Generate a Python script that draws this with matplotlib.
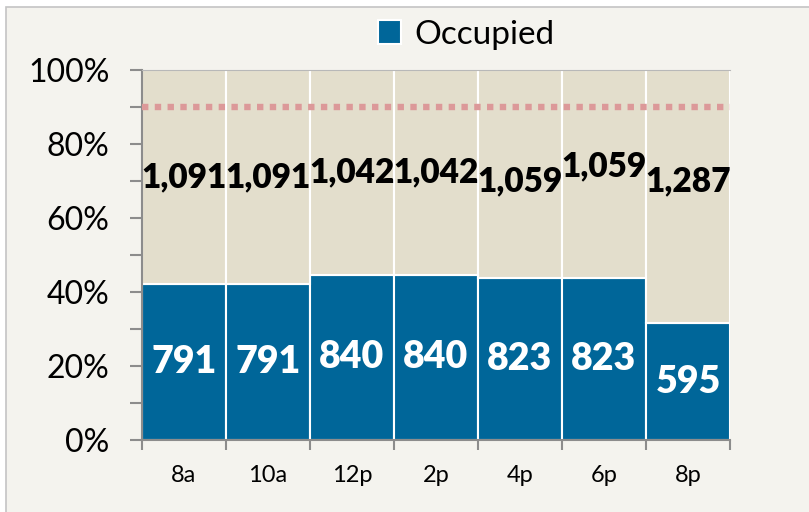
import matplotlib
matplotlib.use("Agg")
import matplotlib.pyplot as plt
from matplotlib.patches import Rectangle
from matplotlib.ticker import MultipleLocator, FixedLocator, FuncFormatter

plt.rcParams.update({"font.family": ["Lato", "DejaVu Sans"]})

# ---- data ----
slots = ["8a", "10a", "12p", "2p", "4p", "6p", "8p"]
occupied = [791, 791, 840, 840, 823, 823, 595]
empty = [1091, 1091, 1042, 1042, 1059, 1059, 1287]
target = 0.90
# small vertical nudges of the upper labels (share of axis), as in the original
empty_nudge = [0.0, 0.0, 0.0, 0.0, -0.02, 0.02, 0.04]

BLUE, BEIGE, BG, GRID = "#006699", "#e3decc", "#f4f3ee", "#8c8c8c"

fig = plt.figure(figsize=(8.09, 5.12), dpi=100)
fig.patch.set_facecolor("white")
fig.add_artist(Rectangle((6 / 809, -0.01), 1.0, 1 - 7 / 512 + 0.01, transform=fig.transFigure,
                         fc=BG, ec="#c4c4c4", lw=1.2, zorder=0))
ax = fig.add_axes([142 / 809, 1 - 440 / 512, 588 / 809, 370 / 512])
ax.set_facecolor(BG)

x = range(len(slots))
tot = [o + e for o, e in zip(occupied, empty)]
occ_f = [o / t for o, t in zip(occupied, tot)]
emp_f = [e / t for e, t in zip(empty, tot)]

b1 = ax.bar(x, occ_f, width=1.0, color=BLUE, edgecolor="white", lw=1.5, label="Occupied", zorder=2)
ax.bar(x, emp_f, bottom=occ_f, width=1.0, color=BEIGE, edgecolor="white", lw=1.5, zorder=2)
ax.axhline(target, color="#dc9999", lw=4.6, ls=(0, (1, 1)), dash_capstyle="butt", zorder=3)

for i in x:
    ax.text(i, occ_f[i] / 2, f"{occupied[i]:,}", ha="center", va="center", color="white",
            fontsize=27, fontweight="heavy", zorder=4)
    ax.text(i, occ_f[i] + emp_f[i] / 2 + empty_nudge[i], f"{empty[i]:,}", ha="center", va="center",
            color="black", fontsize=24, fontweight="heavy", zorder=4)

ax.set_xlim(-0.5, len(slots) - 0.5)
ax.set_ylim(0, 1)
ax.set_xticks(list(x))
ax.set_xticklabels(slots, fontsize=17)
ax.xaxis.set_minor_locator(FixedLocator([i - 0.5 for i in range(len(slots) + 1)]))
ax.tick_params(axis="x", which="major", length=0, pad=18)
ax.tick_params(axis="x", which="minor", length=7.5, width=1.5, color=GRID)
ax.yaxis.set_major_locator(MultipleLocator(0.2))
ax.yaxis.set_minor_locator(MultipleLocator(0.1))
ax.yaxis.set_major_formatter(FuncFormatter(lambda v, _: f"{v:.0%}"))
ax.tick_params(axis="y", which="both", length=8.5, width=1.5, color=GRID, labelsize=23, pad=15)
for s in ("left", "bottom"):
    ax.spines[s].set_color(GRID)
    ax.spines[s].set_linewidth(1.5)
ax.spines["top"].set_color("#b8b8b8")
ax.spines["right"].set_visible(False)

fig.legend(handles=[b1], labels=["Occupied"], loc="center", bbox_to_anchor=(0.576, 0.932),
           frameon=False, fontsize=24, handlelength=0.7, handleheight=0.7, handletextpad=0.4)

fig.savefig("out.png", dpi=100, facecolor=fig.get_facecolor())
